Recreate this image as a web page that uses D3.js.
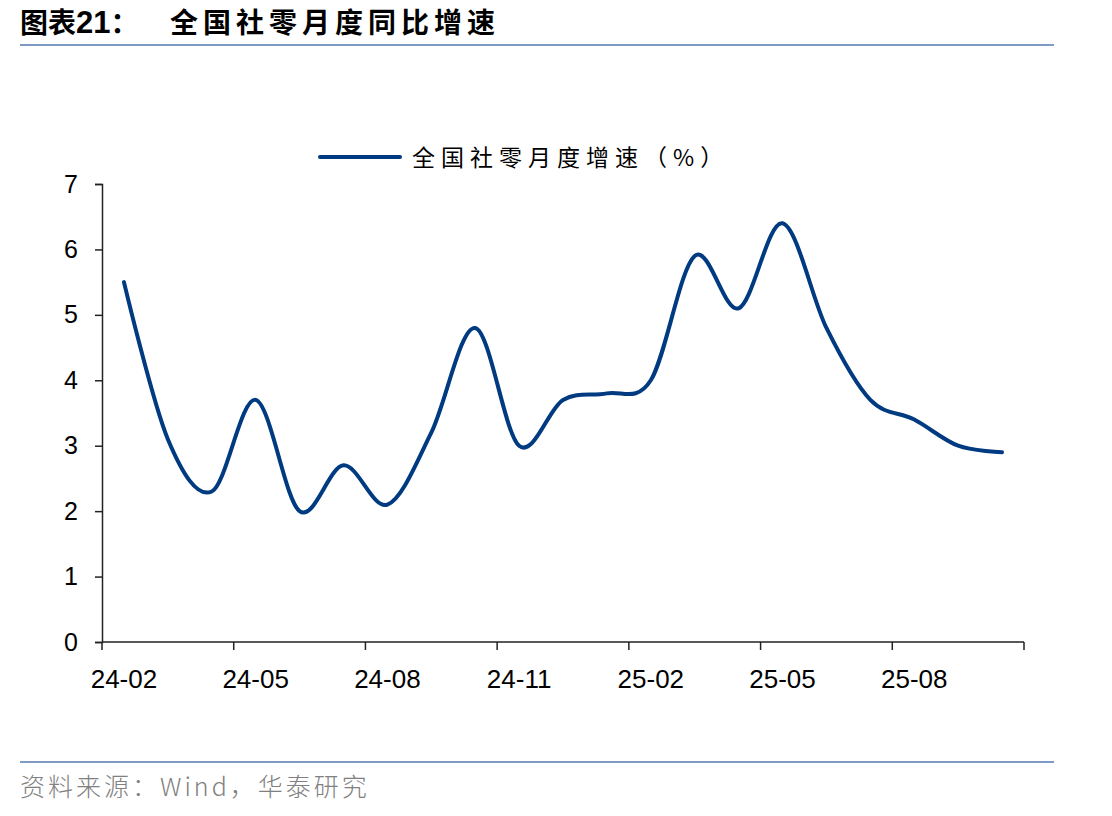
<!DOCTYPE html>
<html lang="zh">
<head>
  <meta charset="UTF-8">
  <title>全国社零月度同比增速</title>
  <script src="https://d3js.org/d3.v7.min.js"></script>
  <style>
    body {
      margin: 0;
      background: #fff;
    }
    svg {
      display: block;
    }
  </style>
</head>
<body>
  <div id="chart"></div>

  <script>
    // 月份（24-02 ~ 25-10）
    const months = ["24-02", "24-03", "24-04", "24-05", "24-06", "24-07", "24-08",
                    "24-09", "24-10", "24-11", "24-12", "25-01", "25-02", "25-03",
                    "25-04", "25-05", "25-06", "25-07", "25-08", "25-09", "25-10"];
    // 全国社零月度增速（%）
    const growth = [5.5, 3.1, 2.3, 3.7, 2.0, 2.7, 2.1,
                    3.2, 4.8, 3.0, 3.7, 3.8, 4.0, 5.9,
                    5.1, 6.4, 4.8, 3.7, 3.4, 3.0, 2.9];
    const yTicks = [0, 1, 2, 3, 4, 5, 6, 7];
    const xTickLabels = ["24-02", "24-05", "24-08", "24-11", "25-02", "25-05", "25-08"];

    const width = 1112, height = 816;
    const plotLeft = 102, plotRight = 1024, plotTop = 184, plotBottom = 642;

    const svg = d3.select("#chart").append("svg")
      .attr("width", width)
      .attr("height", height);

    // 标题
    const title = svg.append("text")
      .attr("x", 20)
      .attr("y", 33)
      .attr("font-family", "'Noto Sans CJK SC', sans-serif")
      .attr("font-size", 28)
      .attr("font-weight", "bold")
      .attr("fill", "#000");
    title.append("tspan").text("图表");
    title.append("tspan").attr("font-family", "Arial, 'Liberation Sans', sans-serif")
      .attr("font-size", 31).text("21");
    title.append("tspan").text("：");
    title.append("tspan").attr("x", 170).attr("letter-spacing", 5).text("全国社零月度同比增速");

    svg.append("line")
      .attr("x1", 20).attr("x2", 1054)
      .attr("y1", 45).attr("y2", 45)
      .attr("stroke", "#7f9ac4")
      .attr("stroke-width", 2);

    // 比例尺
    const x = d3.scaleBand()
      .domain(months)
      .range([plotLeft, plotRight]);

    const y = d3.scaleLinear()
      .domain([0, 7])
      .range([plotBottom, plotTop]);

    // y 轴
    const yAxis = svg.append("g")
      .attr("transform", `translate(${plotLeft},0)`)
      .call(d3.axisLeft(y).tickValues(yTicks).tickSize(7).tickPadding(17).tickFormat(d3.format("d")));
    yAxis.select(".domain").attr("stroke", "#222").attr("stroke-width", 1.5);
    yAxis.selectAll(".tick line").attr("stroke", "#222").attr("stroke-width", 1.5);
    yAxis.selectAll(".tick text")
      .attr("font-family", "Arial, 'Liberation Sans', sans-serif")
      .attr("font-size", 25)
      .attr("fill", "#000");

    // x 轴：刻度在每季度的月份边界，标签在该月中间
    const boundaryIdx = d3.range(0, months.length + 1, 3);
    const xb = i => plotLeft + i * x.step();
    const xAxis = svg.append("g");
    xAxis.append("line")
      .attr("x1", plotLeft).attr("x2", plotRight)
      .attr("y1", plotBottom).attr("y2", plotBottom)
      .attr("stroke", "#222").attr("stroke-width", 1.5);
    xAxis.selectAll("line.tick")
      .data(boundaryIdx)
      .join("line")
      .attr("class", "tick")
      .attr("x1", d => xb(d)).attr("x2", d => xb(d))
      .attr("y1", plotBottom).attr("y2", plotBottom + 8)
      .attr("stroke", "#222").attr("stroke-width", 1.5);
    xAxis.selectAll("text")
      .data(xTickLabels)
      .join("text")
      .attr("x", d => x(d) + x.bandwidth() / 2)
      .attr("y", plotBottom + 46)
      .attr("text-anchor", "middle")
      .attr("font-family", "Arial, 'Liberation Sans', sans-serif")
      .attr("font-size", 26)
      .attr("fill", "#000")
      .text(d => d);

    // 折线
    const line = d3.line()
      .x((d, i) => x(months[i]) + x.bandwidth() / 2)
      .y(d => y(d))
      .curve(d3.curveCardinal.tension(0));

    svg.append("path")
      .datum(growth)
      .attr("d", line)
      .attr("fill", "none")
      .attr("stroke", "#003a80")
      .attr("stroke-width", 4)
      .attr("stroke-linecap", "round");

    // 图例
    svg.append("line")
      .attr("x1", 320).attr("x2", 400)
      .attr("y1", 157).attr("y2", 157)
      .attr("stroke", "#003a80")
      .attr("stroke-width", 4)
      .attr("stroke-linecap", "round");
    svg.append("text")
      .attr("x", 412)
      .attr("y", 166)
      .attr("font-family", "'Noto Sans CJK SC', sans-serif")
      .attr("font-size", 23)
      .attr("letter-spacing", 6)
      .attr("fill", "#000")
      .text("全国社零月度增速（%）");

    // 底部来源
    svg.append("line")
      .attr("x1", 20).attr("x2", 1054)
      .attr("y1", 762).attr("y2", 762)
      .attr("stroke", "#7f9ac4")
      .attr("stroke-width", 2);
    svg.append("text")
      .attr("x", 20)
      .attr("y", 796)
      .attr("font-family", "'Noto Sans CJK SC', sans-serif")
      .attr("font-size", 25)
      .attr("font-weight", 300)
      .attr("letter-spacing", 3)
      .attr("fill", "#808080")
      .text("资料来源：Wind，华泰研究");
  </script>
</body>
</html>
